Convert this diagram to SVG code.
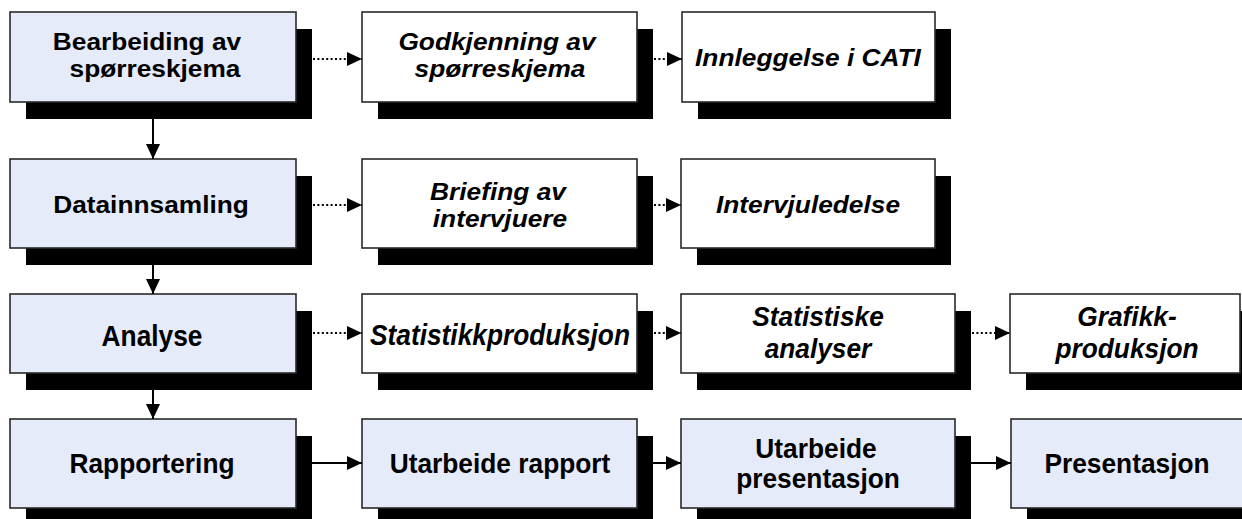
<svg xmlns="http://www.w3.org/2000/svg" width="1242" height="519" viewBox="0 0 1242 519">
<style>
.sh{fill:#000}
.bx{stroke:#2a2a2a;stroke-width:1.6}
.blue{fill:#E6EBFA}
.white{fill:#fff}
text{font-family:"Liberation Sans",Arial,sans-serif;font-weight:bold;font-size:26.3px;fill:#000;text-anchor:middle}
.it{font-style:italic}
.solid{stroke:#000;stroke-width:2;fill:none}
.dot{stroke:#000;stroke-width:2;fill:none;stroke-dasharray:2 2.4}
</style>
<defs>
<marker id="ah" viewBox="0 0 15 14" refX="15" refY="7" markerWidth="15" markerHeight="14" markerUnits="userSpaceOnUse" orient="auto">
<path d="M0,0 L15,7 L0,14 z" fill="#000"/>
</marker>
</defs>
<g id="n1"><rect class="sh" x="26" y="29" width="286" height="90"/><rect class="bx blue" x="10" y="12" width="286" height="90"/>
<text transform="translate(147,50) scale(1,0.886)">Bearbeiding av</text><text transform="translate(155,77) scale(1,0.886)">spørreskjema</text></g>
<g id="n2"><rect class="sh" x="378" y="29" width="275" height="90"/><rect class="bx white" x="362" y="12" width="275" height="90"/>
<text class="it" transform="translate(497,50) scale(1,0.886)">Godkjenning av</text><text class="it" transform="translate(500,77) scale(1,0.886)">spørreskjema</text></g>
<g id="n3"><rect class="sh" x="698" y="29" width="253" height="90"/><rect class="bx white" x="682" y="12" width="253" height="90"/>
<text class="it" transform="translate(808,66) scale(1,0.886)">Innleggelse i CATI</text></g>
<g id="n4"><rect class="sh" x="26" y="176" width="286" height="89"/><rect class="bx blue" x="10" y="159" width="286" height="89"/>
<text transform="translate(151,213) scale(1,0.886)">Datainnsamling</text></g>
<g id="n5"><rect class="sh" x="378" y="176" width="275" height="89"/><rect class="bx white" x="362" y="159" width="275" height="89"/>
<text class="it" transform="translate(498,200) scale(1,0.886)">Briefing av</text><text class="it" transform="translate(500,227) scale(1,0.886)">intervjuere</text></g>
<g id="n6"><rect class="sh" x="697" y="176" width="254" height="89"/><rect class="bx white" x="681" y="159" width="254" height="89"/>
<text class="it" transform="translate(808,213) scale(1,0.886)">Intervjuledelse</text></g>
<g id="n7"><rect class="sh" x="26" y="311" width="286" height="79"/><rect class="bx blue" x="10" y="294" width="286" height="79"/>
<text transform="translate(152,346) scale(1,1.1)">Analyse</text></g>
<g id="n8"><rect class="sh" x="378" y="311" width="275" height="79"/><rect class="bx white" x="362" y="294" width="275" height="79"/>
<text class="it" transform="translate(500,345) scale(1,1.1)">Statistikkproduksjon</text></g>
<g id="n9"><rect class="sh" x="697" y="311" width="274" height="79"/><rect class="bx white" x="681" y="294" width="274" height="79"/>
<text class="it" transform="translate(818,326) scale(1,1.05)">Statistiske</text><text class="it" transform="translate(818,358) scale(1,1.05)">analyser</text></g>
<g id="n10"><rect class="sh" x="1026" y="311" width="230" height="79"/><rect class="bx white" x="1010" y="294" width="230" height="79"/>
<text class="it" transform="translate(1127,326) scale(1,1.05)">Grafikk-</text><text class="it" transform="translate(1127,358) scale(1,1.05)">produksjon</text></g>
<g id="n11"><rect class="sh" x="26" y="436" width="286" height="89"/><rect class="bx blue" x="10" y="419" width="286" height="89"/>
<text transform="translate(152,473) scale(1,1.03)">Rapportering</text></g>
<g id="n12"><rect class="sh" x="378" y="436" width="275" height="89"/><rect class="bx blue" x="362" y="419" width="275" height="89"/>
<text transform="translate(500,473) scale(1,1.03)">Utarbeide rapport</text></g>
<g id="n13"><rect class="sh" x="697" y="436" width="274" height="89"/><rect class="bx blue" x="681" y="419" width="274" height="89"/>
<text transform="translate(816,458) scale(1,1.03)">Utarbeide</text><text transform="translate(818,488) scale(1,1.03)">presentasjon</text></g>
<g id="n14"><rect class="sh" x="1027" y="436" width="233" height="89"/><rect class="bx blue" x="1011" y="419" width="233" height="89"/>
<text transform="translate(1127,473) scale(1,1.03)">Presentasjon</text></g>
<g id="connectors">
<line class="solid" x1="153" y1="119" x2="153" y2="159" marker-end="url(#ah)"/>
<line class="solid" x1="153" y1="265" x2="153" y2="294" marker-end="url(#ah)"/>
<line class="solid" x1="153" y1="390" x2="153" y2="419" marker-end="url(#ah)"/>
<line class="dot" x1="313" y1="59" x2="362" y2="59" marker-end="url(#ah)"/>
<line class="dot" x1="654" y1="59" x2="682" y2="59" marker-end="url(#ah)"/>
<line class="dot" x1="313" y1="205" x2="362" y2="205" marker-end="url(#ah)"/>
<line class="dot" x1="654" y1="205" x2="681" y2="205" marker-end="url(#ah)"/>
<line class="dot" x1="313" y1="333" x2="362" y2="333" marker-end="url(#ah)"/>
<line class="dot" x1="654" y1="333" x2="681" y2="333" marker-end="url(#ah)"/>
<line class="dot" x1="972" y1="333" x2="1010" y2="333" marker-end="url(#ah)"/>
<line class="solid" x1="312" y1="463" x2="362" y2="463" marker-end="url(#ah)"/>
<line class="solid" x1="653" y1="463" x2="681" y2="463" marker-end="url(#ah)"/>
<line class="solid" x1="971" y1="463" x2="1011" y2="463" marker-end="url(#ah)"/>
</g>
</svg>
